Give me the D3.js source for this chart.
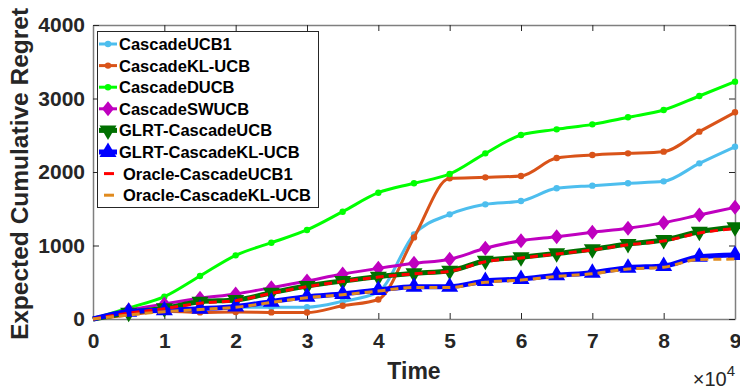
<!DOCTYPE html>
<html>
<head>
<meta charset="utf-8">
<script src="https://cdn.jsdelivr.net/npm/d3@7"></script>
<style>
  html, body { margin: 0; padding: 0; background: #fff; }
  svg { display: block; font-family: "Liberation Sans", Arial, sans-serif; font-weight: bold; }
</style>
</head>
<body>
<svg id="chart" width="740" height="391"></svg>
<script>
// time steps (in units of 1e4)
const times = [0, 0.5, 1, 1.5, 2, 2.5, 3, 3.5, 4, 4.5, 5, 5.5, 6, 6.5, 7, 7.5, 8, 8.5, 9];

const cascadeUCB1 = [0, 70, 120, 140, 160, 160, 160, 240, 370, 1150, 1424, 1560, 1605, 1778, 1814, 1846, 1873, 2118, 2344];
const cascadeKLUCB = [0, 54, 105, 90, 95, 90, 88, 180, 265, 1110, 1914, 1927, 1946, 2190, 2231, 2254, 2277, 2549, 2812];
const cascadeDUCB = [0, 150, 304, 585, 866, 1038, 1211, 1460, 1718, 1846, 1973, 2254, 2503, 2580, 2648, 2744, 2843, 3034, 3229];
const cascadeSWUCB = [0, 122, 204, 281, 340, 426, 517, 612, 689, 757, 812, 962, 1066, 1120, 1179, 1234, 1311, 1415, 1519];
const glrtCascadeUCB = [0, 86, 145, 236, 258, 358, 449, 517, 576, 621, 657, 793, 839, 893, 948, 1020, 1075, 1188, 1247];
const glrtCascadeKLUCB = [0, 100, 120, 140, 170, 236, 304, 340, 395, 440, 440, 517, 544, 594, 630, 698, 721, 848, 871];
const oracleCascadeUCB1 = [0, 80, 140, 215, 250, 350, 440, 510, 570, 615, 650, 780, 830, 885, 940, 1010, 1060, 1170, 1230];
const oracleCascadeKLUCB = [0, 55, 100, 130, 160, 225, 290, 330, 380, 430, 430, 500, 530, 580, 615, 680, 705, 810, 815];

const xTicks = [0, 1, 2, 3, 4, 5, 6, 7, 8, 9];
const yTicks = [0, 1000, 2000, 3000, 4000];

const series = [
    { name: "CascadeUCB1", values: cascadeUCB1, color: "#4DBEEE", width: 3, marker: "dot" },
    { name: "CascadeKL-UCB", values: cascadeKLUCB, color: "#D95319", width: 3, marker: "dot" },
    { name: "CascadeDUCB", values: cascadeDUCB, color: "#00FF00", width: 3, marker: "dot" },
    { name: "CascadeSWUCB", values: cascadeSWUCB, color: "#BF00BF", width: 3, marker: "diamond" },
    { name: "GLRT-CascadeUCB", values: glrtCascadeUCB, color: "#007000", width: 5, marker: "triDown" },
    { name: "GLRT-CascadeKL-UCB", values: glrtCascadeKLUCB, color: "#0000FF", width: 5, marker: "triUp" },
    { name: "Oracle-CascadeUCB1", values: oracleCascadeUCB1, color: "#FF0000", width: 3, marker: null, dash: "8,5" },
    { name: "Oracle-CascadeKL-UCB", values: oracleCascadeKLUCB, color: "#E08A1E", width: 3, marker: null, dash: "8,5" }
];

const svg = d3.select("#chart");
const margin = { left: 93, right: 5, top: 25, bottom: 72 };
const W = 740, H = 391;

const x = d3.scaleLinear().domain([0, 9]).range([margin.left, W - margin.right]);
const y = d3.scaleLinear().domain([0, 4000]).range([H - margin.bottom, margin.top]);

const axisColor = "#262626";
const boxColor = "#7f7f7f";

// axes box with inward ticks on all four sides
const gx = svg.append("g")
    .attr("transform", "translate(0," + y(0) + ")")
    .call(d3.axisBottom(x).tickValues(xTicks).tickFormat(d3.format("d"))
        .tickSizeInner(-6).tickSizeOuter(0).tickPadding(14));
const gxTop = svg.append("g")
    .attr("transform", "translate(0," + y(4000) + ")")
    .call(d3.axisTop(x).tickValues(xTicks).tickSizeInner(-6).tickSizeOuter(0).tickFormat(""));
const gy = svg.append("g")
    .attr("transform", "translate(" + x(0) + ",0)")
    .call(d3.axisLeft(y).tickValues(yTicks).tickFormat(d3.format("d"))
        .tickSizeInner(-6).tickSizeOuter(0).tickPadding(8));
const gyRight = svg.append("g")
    .attr("transform", "translate(" + x(9) + ",0)")
    .call(d3.axisRight(y).tickValues(yTicks).tickSizeInner(-6).tickSizeOuter(0).tickFormat(""));

[gx, gxTop, gy, gyRight].forEach(g => {
    g.select(".domain").attr("stroke", boxColor).attr("stroke-width", 1.5);
    g.selectAll(".tick line").attr("stroke", axisColor).attr("stroke-width", 1);
    g.selectAll(".tick text")
        .attr("fill", axisColor)
        .style("font-size", "21px")
        .style("font-weight", "bold")
        .style("font-family", "'Liberation Sans', Arial, sans-serif");
});

// axis titles
svg.append("text")
    .attr("x", (x(0) + x(9)) / 2)
    .attr("y", 379)
    .attr("text-anchor", "middle")
    .attr("fill", axisColor)
    .style("font-size", "23px")
    .text("Time");

svg.append("text")
    .attr("transform", "translate(28," + 174 + ") rotate(-90)")
    .attr("text-anchor", "middle")
    .attr("fill", axisColor)
    .style("font-size", "24.5px")
    .text("Expected Cumulative Regret");

const expo = svg.append("text")
    .attr("x", 735)
    .attr("y", 386)
    .attr("text-anchor", "end")
    .attr("fill", axisColor)
    .style("font-size", "20px")
    .style("font-weight", "normal");
expo.append("tspan").text("\u00d710");
expo.append("tspan").attr("dy", -10).style("font-size", "15px").text("4");

// lines
const line = d3.line()
    .x((d, i) => x(times[i]))
    .y(d => y(d))
    .curve(d3.curveMonotoneX);

function drawMarker(g, type, color, cx, cy) {
    if (type === "dot") {
        g.append("circle").attr("cx", cx).attr("cy", cy).attr("r", 3.2).attr("fill", color);
    } else if (type === "diamond") {
        g.append("path")
            .attr("d", `M${cx},${cy - 7.5}L${cx + 6},${cy}L${cx},${cy + 7.5}L${cx - 6},${cy}Z`)
            .attr("fill", color);
    } else if (type === "triDown") {
        g.append("path")
            .attr("d", `M${cx - 8.5},${cy - 5}L${cx + 8.5},${cy - 5}L${cx},${cy + 9.5}Z`)
            .attr("fill", color);
    } else if (type === "triUp") {
        g.append("path")
            .attr("d", `M${cx - 8.5},${cy + 5}L${cx + 8.5},${cy + 5}L${cx},${cy - 9.5}Z`)
            .attr("fill", color);
    }
}

const plot = svg.append("g");
series.forEach(s => {
    const g = plot.append("g");
    g.append("path")
        .attr("d", line(s.values))
        .attr("fill", "none")
        .attr("stroke", s.color)
        .attr("stroke-width", s.width)
        .attr("stroke-dasharray", s.dash || null)
        .attr("stroke-linejoin", "round");
    if (s.marker) {
        s.values.forEach((v, i) => {
            if (i === 0) return;
            drawMarker(g, s.marker, s.color, x(times[i]), y(v));
        });
    }
});

// legend
const legend = svg.append("g");
legend.append("rect")
    .attr("x", 97.5).attr("y", 31.5)
    .attr("width", 221).attr("height", 176)
    .attr("fill", "#fff")
    .attr("stroke", axisColor)
    .attr("stroke-width", 1);

series.forEach((s, i) => {
    const cy = 44 + i * 21.6;
    const g = legend.append("g");
    g.append("line")
        .attr("x1", s.dash ? 104 : 99).attr("x2", s.dash ? 114 : 117)
        .attr("y1", cy).attr("y2", cy)
        .attr("stroke", s.color)
        .attr("stroke-width", s.width);
    if (s.marker) drawMarker(g, s.marker, s.color, 108, cy);
    g.append("text")
        .attr("x", s.marker ? 119 : 123)
        .attr("y", cy + 6)
        .attr("fill", "#000")
        .style("font-size", "16.5px")
        .text(s.name);
});
</script>
</body>
</html>
